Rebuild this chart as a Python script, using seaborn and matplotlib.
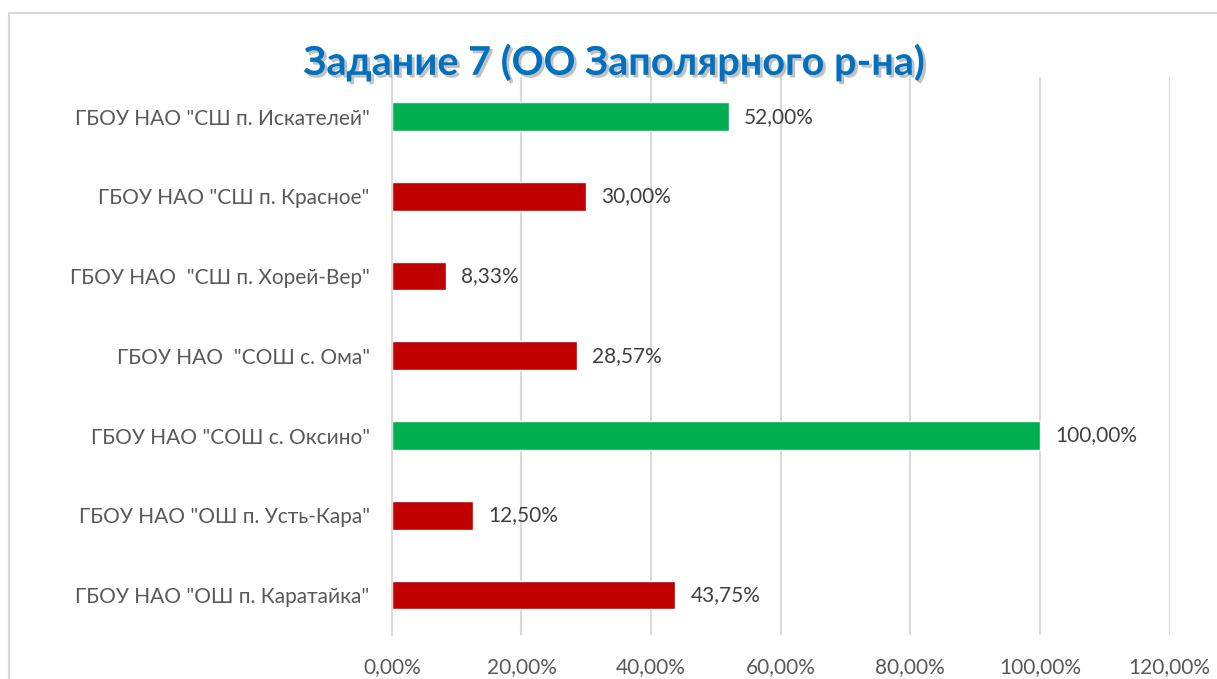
import matplotlib.pyplot as plt
import matplotlib.patheffects as pe
from matplotlib.patches import Rectangle
from matplotlib.ticker import FuncFormatter
import pandas as pd
import seaborn as sns

schools = [
    'ГБОУ НАО "СШ п. Искателей"',
    'ГБОУ НАО "СШ п. Красное"',
    'ГБОУ НАО  "СШ п. Хорей-Вер"',
    'ГБОУ НАО  "СОШ с. Ома"',
    'ГБОУ НАО "СОШ с. Оксино"',
    'ГБОУ НАО "ОШ п. Усть-Кара"',
    'ГБОУ НАО "ОШ п. Каратайка"',
]
percent = [52.00, 30.00, 8.33, 28.57, 100.00, 12.50, 43.75]
colors = ['#00B050' if v >= 50 else '#C00000' for v in percent]

df = pd.DataFrame({'school': schools, 'percent': percent})

sns.set_style('white')
plt.rcParams['font.family'] = ['Lato', 'DejaVu Sans']

fig = plt.figure(figsize=(12.17, 6.79), dpi=100)
ax = fig.add_axes([0.322, 0.065, 0.639, 0.822])

sns.barplot(data=df, x='percent', y='school', hue='school', palette=colors,
            legend=False, width=0.36, saturation=1, ax=ax)

ax.set_xlim(0, 120)
ax.set_ylim(6.5, -0.5)
ax.set_xticks(range(0, 121, 20))
ax.xaxis.set_major_formatter(FuncFormatter(lambda v, p: f'{v:.2f}%'.replace('.', ',')))
ax.grid(axis='x', color='#D9D9D9', linewidth=1.5)
ax.set_axisbelow(True)
for s in ['top', 'right', 'bottom']:
    ax.spines[s].set_visible(False)
ax.spines['left'].set_color('#D9D9D9')
ax.spines['left'].set_linewidth(1.5)
ax.tick_params(axis='both', length=0, labelsize=15, colors='#595959')
ax.tick_params(axis='y', pad=16)
ax.tick_params(axis='x', pad=16)
ax.set_xlabel('')
ax.set_ylabel('')

for i, v in enumerate(percent):
    ax.annotate(f'{v:.2f}%'.replace('.', ','), (v, i), xytext=(11, 0),
                textcoords='offset points', va='center', ha='left',
                fontsize=15, color='#404040')

fig.text(0.505, 0.908, 'Задание 7 (ОО Заполярного р-на)', ha='center', va='center',
         fontsize=28.5, fontweight='bold', color='#0070C0',
         path_effects=[pe.withSimplePatchShadow(offset=(2, -2), shadow_rgbFace='#666666', alpha=0.4)])

fig.patches.append(Rectangle((9 / 1217, -0.1), 1.2, 0.1 + 1 - 13 / 679, transform=fig.transFigure,
                             fill=False, edgecolor='#D9D9D9', linewidth=1.5))

fig.savefig('out.png', dpi=100)
